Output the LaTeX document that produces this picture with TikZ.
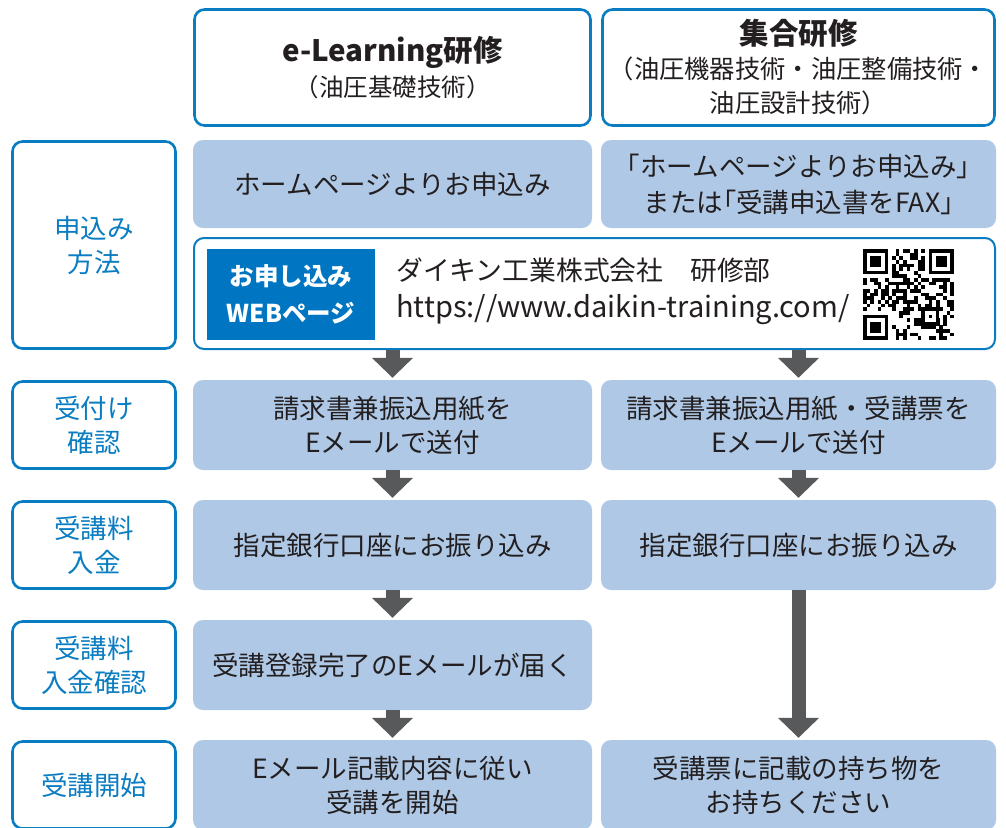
\documentclass[tikz,border=0pt]{standalone}
\usepackage{fontspec}
\setmainfont{Noto Sans CJK JP}
\usetikzlibrary{arrows.meta}
\definecolor{bordblue}{HTML}{0A7DC2}
\definecolor{boxfill}{HTML}{AEC8E6}
\definecolor{arrgray}{HTML}{58595B}
\definecolor{txt}{HTML}{231F20}
\definecolor{webblue}{HTML}{0075C1}
\begin{document}
\begin{tikzpicture}[x=1pt,y=-1pt,
 lblbox/.style={draw=bordblue, line width=2.6pt, rounded corners=10pt, fill=white, minimum width=163pt, text=bordblue, align=center, font=\fontsize{26.5}{34}\selectfont, inner sep=0pt},
 headbox/.style={draw=bordblue, line width=2.6pt, rounded corners=10pt, fill=white, text=txt, align=center, inner sep=0pt},
 stepbox/.style={fill=boxfill, rounded corners=10pt, text=txt, align=center, font=\fontsize{26.5}{34}\selectfont, inner sep=0pt},
 arr/.style={draw=arrgray, line width=14pt, -{Triangle[width=40pt,length=20pt]}, shorten >=2pt},
]
\useasboundingbox (0,0) rectangle (1006,827);
% headers
\node[headbox, minimum width=396pt, minimum height=116pt, font=\fontsize{24.5}{35}\selectfont] (h1) at (392.5,67.5)
  {{\bfseries\fontsize{29.5}{35}\selectfont e-Learning研修}\\（油圧基礎技術）};
\node[headbox, minimum width=392pt, minimum height=116pt, font=\fontsize{25.3}{34}\selectfont] (h2) at (798.5,67.5)
  {{\bfseries\fontsize{29.5}{34}\selectfont 集合研修}\\（油圧機器技術・油圧整備技術・\\油圧設計技術）};
% labels
\node[lblbox, minimum height=207pt] (l1) at (94,245) {申込み\\方法};
\node[lblbox, minimum height=87pt] (l2) at (94,425) {受付け\\確認};
\node[lblbox, minimum height=87pt] (l3) at (94,545) {受講料\\入金};
\node[lblbox, minimum height=87pt] (l4) at (94,665) {受講料\\入金確認};
\node[lblbox, minimum height=87pt] (l5) at (94,785) {受講開始};
% row 1
\node[stepbox, minimum width=399pt, minimum height=88pt] (a1) at (392.5,184) {ホームページよりお申込み};
\node[stepbox, minimum width=395pt, minimum height=88pt, font=\fontsize{26.5}{36}\selectfont] (a2) at (798.5,184) {「ホームページよりお申込み」\\または｢受講申込書をFAX｣};
% web box
\node[draw=bordblue, line width=2pt, rounded corners=10pt, fill=white, minimum width=801pt, minimum height=111pt] (web) at (594.5,293.5) {};
\node[fill=webblue, text=white, minimum width=168pt, minimum height=91pt, align=center, font=\bfseries\fontsize{24.5}{37}\selectfont, inner sep=0pt] (webtag) at (291,294.5) {お申し込み\\WEBページ};
\node[anchor=west, align=left, text=txt, font=\fontsize{26.8}{37}\selectfont, inner sep=0pt] (addr) at (396,291.5)
  {ダイキン工業株式会社　研修部\\{\fontsize{29}{37}\selectfont https://www.daikin-training.com/}};
% QR code
\begin{scope}[shift={(863,249)}, x=3.64pt, y=-3.64pt]
  \pgfmathsetseed{1234}
  \foreach \i in {0,...,24}{
    \foreach \j in {0,...,24}{
      \pgfmathtruncatemacro\qb{rnd<0.5}
      \ifnum\qb=1 \fill[black] (\i,\j) rectangle ++(1.02,1.02);\fi
    }
  }
  \fill[white] (0,0) rectangle (8,8);
  \fill[white] (17,0) rectangle (25,8);
  \fill[white] (0,17) rectangle (8,25);
  \foreach \cx/\cy in {0/0,18/0,0/18}{
    \fill[black] (\cx,\cy) rectangle ++(7,7);
    \fill[white] (\cx+1,\cy+1) rectangle ++(5,5);
    \fill[black] (\cx+2,\cy+2) rectangle ++(3,3);
  }
  \fill[black] (16,16) rectangle ++(5,5);
  \fill[white] (17,17) rectangle ++(3,3);
  \fill[black] (18,18) rectangle ++(1,1);
\end{scope}
% row 2-5
\node[stepbox, minimum width=399pt, minimum height=90pt] (b1) at (392.5,425) {請求書兼振込用紙を\\Eメールで送付};
\node[stepbox, minimum width=395pt, minimum height=90pt] (b2) at (798.5,425) {請求書兼振込用紙・受講票を\\Eメールで送付};
\node[stepbox, minimum width=399pt, minimum height=90pt] (c1) at (392.5,545) {指定銀行口座にお振り込み};
\node[stepbox, minimum width=395pt, minimum height=90pt] (c2) at (798.5,545) {指定銀行口座にお振り込み};
\node[stepbox, minimum width=399pt, minimum height=90pt] (d1) at (392.5,665) {受講登録完了のEメールが届く};
\node[stepbox, minimum width=399pt, minimum height=90pt] (e1) at (392.5,785) {Eメール記載内容に従い\\受講を開始};
\node[stepbox, minimum width=395pt, minimum height=90pt] (e2) at (798.5,785) {受講票に記載の持ち物を\\お持ちください};
% arrows
\draw[arr] (web.south -| b1.north) -- (b1.north);
\draw[arr] (web.south -| b2.north) -- (b2.north);
\draw[arr] (b1.south) -- (c1.north);
\draw[arr] (b2.south) -- (c2.north);
\draw[arr] (c1.south) -- (d1.north);
\draw[arr] (d1.south) -- (e1.north);
\draw[arr] (c2.south) -- (e2.north);
\end{tikzpicture}
\end{document}
